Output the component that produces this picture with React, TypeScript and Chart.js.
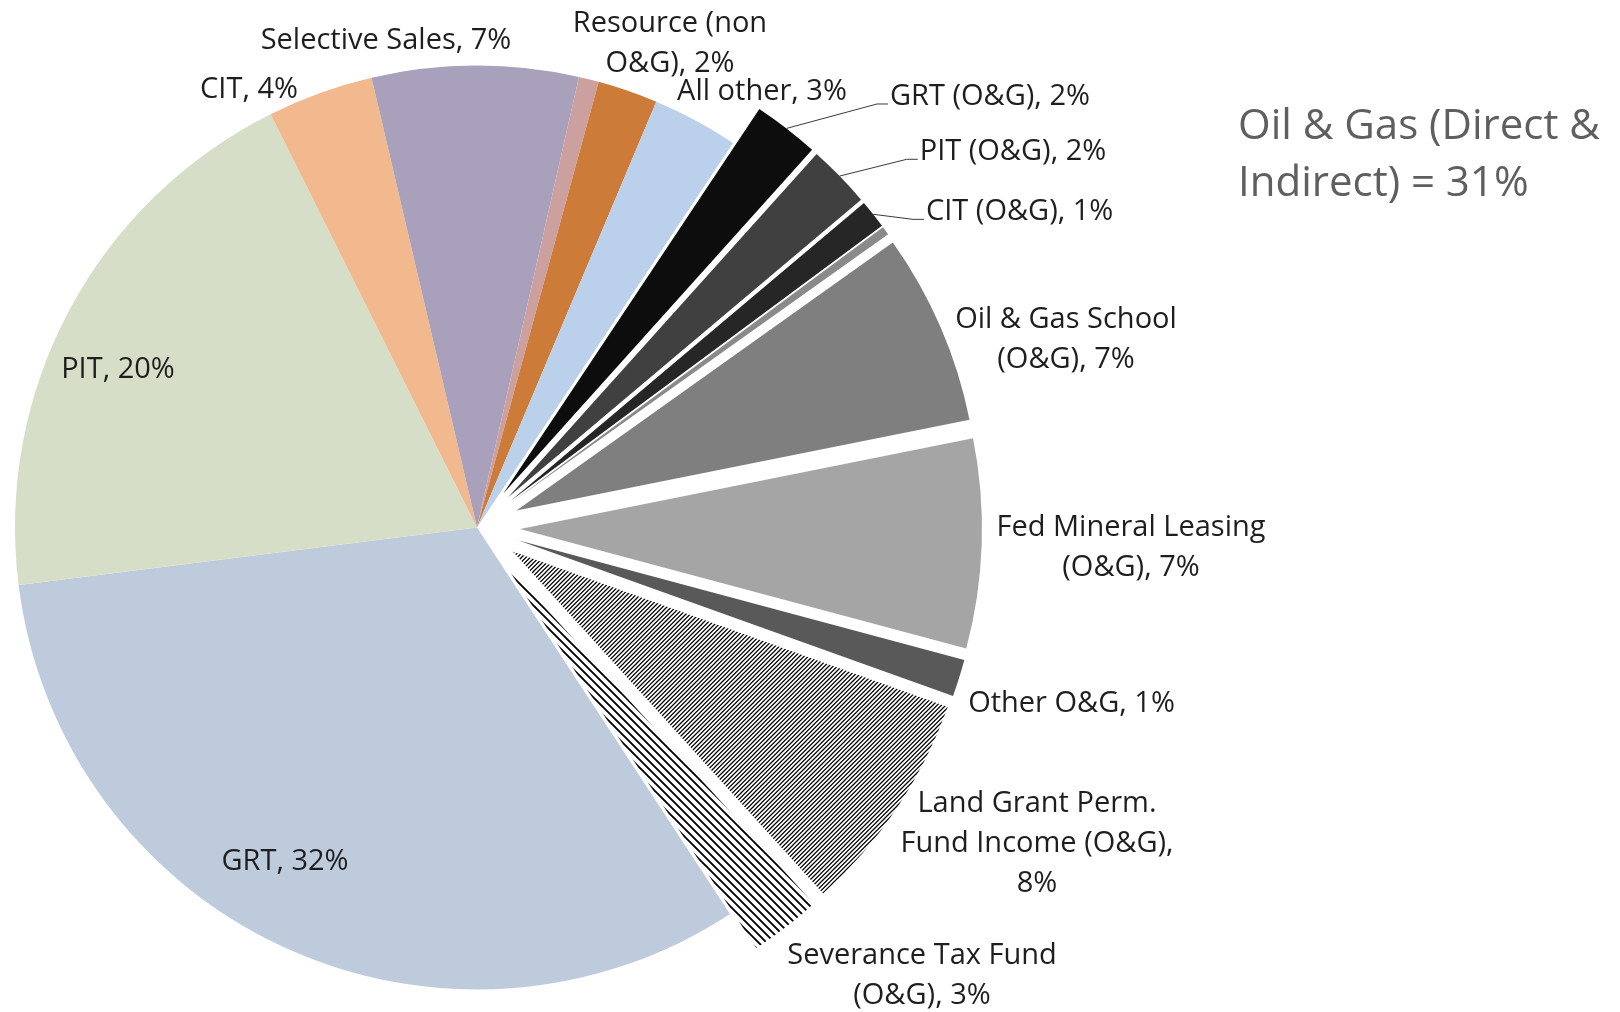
import React, { useEffect, useRef } from 'react';
import { Chart, registerables } from 'chart.js';

Chart.register(...registerables);

// ---------------- data ----------------
const categories: string[] = [
  'GRT',
  'PIT',
  'CIT',
  'Selective Sales',
  'Misc. (non O&G)',
  'Resource (non O&G)',
  'All other',
  'GRT (O&G)',
  'PIT (O&G)',
  'CIT (O&G)',
  'Misc. (O&G)',
  'Oil & Gas School (O&G)',
  'Fed Mineral Leasing (O&G)',
  'Other O&G',
  'Land Grant Perm. Fund Income (O&G)',
  'Severance Tax Fund (O&G)',
];

const values: number[] = [32.2, 19.6, 3.7, 7.2, 0.7, 2.1, 3.0, 2.3, 2.2, 1.0, 0.3, 6.7, 7.3, 1.3, 7.8, 2.5];

const isOilGas: boolean[] = [false, false, false, false, false, false, false, true, true, true, true, true, true, true, true, true];

// label text templates ({p} = rounded percentage)
const labelTemplates: (string[] | null)[] = [
  ['GRT, {p}'],
  ['PIT, {p}'],
  ['CIT, {p}'],
  ['Selective Sales, {p}'],
  null,
  ['Resource (non', 'O&G), {p}'],
  ['All other, {p}'],
  ['GRT (O&G), {p}'],
  ['PIT (O&G), {p}'],
  ['CIT (O&G), {p}'],
  null,
  ['Oil & Gas School', '(O&G), {p}'],
  ['Fed Mineral Leasing', '(O&G), {p}'],
  ['Other O&G, {p}'],
  ['Land Grant Perm.', 'Fund Income (O&G),', '{p}'],
  ['Severance Tax Fund', '(O&G), {p}'],
];

const titleLines: string[] = ['Oil & Gas (Direct &', 'Indirect) = 31%'];

// ---------------- styles / layout ----------------
const sliceColors: string[] = [
  '#BECBDC', // GRT
  '#D7DEC7', // PIT
  '#F2B98E', // CIT
  '#A9A0BB', // Selective Sales
  '#CCA09F', // misc
  '#CD7B39', // Resource
  '#BAD0EB', // All other
  '#0D0D0D', // GRT (O&G)
  '#404040', // PIT (O&G)
  '#262626', // CIT (O&G)
  '#8A8A8A', // misc O&G
  '#7F7F7F', // School
  '#A5A5A5', // Fed Mineral
  '#595959', // Other O&G
  'hatch-up',
  'hatch-down',
];

const EXPLODE = 43;
const PIE_RADIUS = 462;
const FONT_FAMILY = '"Open Sans", Lato, sans-serif';
const LABEL_SIZE = 29;
const LABEL_DY = 3;
const LINE_H = 40;
const TITLE_SIZE = 42;
const TITLE_X = 1238;
const TITLE_Y = 127;
const TITLE_LINE_H = 57;

type Lay = { fx: number; fy: number; leader?: boolean };
const labelLayout: (Lay | null)[] = [
  { fx: -0.4156, fy: 0.7175 },
  { fx: -0.7771, fy: -0.3474 },
  { fx: -0.4935, fy: -0.9535 },
  { fx: -0.197, fy: -1.0595 },
  null,
  { fx: 0.4177, fy: -1.053 },
  { fx: 0.6169, fy: -0.949 },
  { fx: 0.8658, fy: -0.9167, leader: true },
  { fx: 0.9301, fy: -0.797, leader: true },
  { fx: 0.9437, fy: -0.667, leader: true },
  null,
  { fx: 1.2749, fy: -0.4134 },
  { fx: 1.4156, fy: 0.0379 },
  { fx: 1.2868, fy: 0.3755 },
  { fx: 1.2121, fy: 0.6786 },
  { fx: 0.9632, fy: 0.9643 },
];

function makeHatch(dir: 'up' | 'down', tile: number, count: number, lw: number): CanvasPattern | string {
  const c = document.createElement('canvas');
  c.width = tile;
  c.height = tile;
  const g = c.getContext('2d');
  if (!g) return '#000';
  g.fillStyle = '#ffffff';
  g.fillRect(0, 0, tile, tile);
  g.strokeStyle = '#000000';
  g.lineWidth = lw;
  const period = tile / count;
  g.beginPath();
  if (dir === 'up') {
    for (let k = 0; k <= 2 * tile + 0.01; k += period) {
      g.moveTo(k + 10, -10);
      g.lineTo(k - tile - 10, tile + 10);
    }
  } else {
    for (let k = -tile; k <= tile + 0.01; k += period) {
      g.moveTo(k - 10, -10);
      g.lineTo(k + tile + 10, tile + 10);
    }
  }
  g.stroke();
  const p = g.createPattern(c, 'repeat');
  return p || '#000';
}

const explodePlugin = {
  id: 'explodeSlices',
  afterDatasetUpdate(chart: any, args: any) {
    const meta = chart.getDatasetMeta(args.index);
    meta.data.forEach((arc: any, i: number) => {
      if (!isOilGas[i]) return;
      const mid = (arc.startAngle + arc.endAngle) / 2;
      arc.x += Math.cos(mid) * EXPLODE;
      arc.y += Math.sin(mid) * EXPLODE;
    });
  },
};

const labelPlugin = {
  id: 'sliceLabels',
  afterDraw(chart: any) {
    const ctx: CanvasRenderingContext2D = chart.ctx;
    const meta = chart.getDatasetMeta(0);
    const area = chart.chartArea;
    const cx = (area.left + area.right) / 2;
    const cy = (area.top + area.bottom) / 2;
    const R = meta.data[0].outerRadius;
    const total = values.reduce((a, b) => a + b, 0);
    ctx.save();
    ctx.font = `${LABEL_SIZE}px ${FONT_FAMILY}`;
    ctx.fillStyle = '#1E1E1E';
    ctx.strokeStyle = '#3A3A3A';
    ctx.lineWidth = 1;
    meta.data.forEach((arc: any, i: number) => {
      const tpl = labelTemplates[i];
      const lay = labelLayout[i];
      if (!tpl || !lay) return;
      const pct = Math.round((values[i] / total) * 100) + '%';
      const lines = tpl.map((s) => s.replace('{p}', pct));
      const ax = cx + lay.fx * R;
      const ay = cy + lay.fy * R;
      if (lay.leader) {
        const mid = (arc.startAngle + arc.endAngle) / 2;
        const sx = arc.x + Math.cos(mid) * arc.outerRadius;
        const sy = arc.y + Math.sin(mid) * arc.outerRadius;
        ctx.beginPath();
        ctx.moveTo(sx, sy);
        ctx.lineTo(ax, ay);
        ctx.lineTo(ax + 11, ay);
        ctx.stroke();
        ctx.textAlign = 'left';
        ctx.textBaseline = 'alphabetic';
        ctx.fillText(lines[0], ax + 13, ay + 1);
      } else {
        ctx.textAlign = 'center';
        ctx.textBaseline = 'middle';
        const n = lines.length;
        lines.forEach((l, k) => {
          ctx.fillText(l, ax, ay + LABEL_DY + (k - (n - 1) / 2) * LINE_H);
        });
      }
    });
    // side note
    ctx.font = `${TITLE_SIZE}px ${FONT_FAMILY}`;
    ctx.fillStyle = '#5F5F5F';
    ctx.textAlign = 'left';
    ctx.textBaseline = 'middle';
    titleLines.forEach((l, k) => ctx.fillText(l, TITLE_X, TITLE_Y + k * TITLE_LINE_H));
    ctx.restore();
  },
};

export default function App() {
  const ref = useRef<HTMLCanvasElement | null>(null);

  useEffect(() => {
    const canvas = ref.current;
    if (!canvas) return;
    const bg = sliceColors.map((c) => {
      if (c === 'hatch-up') return makeHatch('up', 13, 3, 1.25);
      if (c === 'hatch-down') return makeHatch('down', 16, 2, 1.9);
      return c;
    });
    const chart = new Chart(canvas, {
      type: 'pie',
      data: {
        labels: categories,
        datasets: [
          {
            data: values,
            backgroundColor: bg as any,
            borderWidth: 0,
          },
        ],
      },
      options: {
        responsive: false,
        animation: false,
        events: [],
        rotation: 146.8,
        radius: PIE_RADIUS,
        layout: { padding: { left: 0, right: 666, top: 43, bottom: 0 } },
        plugins: {
          legend: { display: false },
          tooltip: { enabled: false },
          title: { display: false },
        },
      } as any,
      plugins: [explodePlugin, labelPlugin],
    });
    return () => chart.destroy();
  }, []);

  return (
    <div style={{ position: 'absolute', left: 0, top: 0, width: 1620, height: 1012, background: '#fff' }}>
      <canvas ref={ref} width={1620} height={1012} style={{ display: 'block', width: 1620, height: 1012 }} />
    </div>
  );
}
